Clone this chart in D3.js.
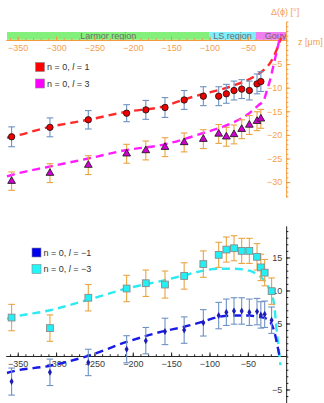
<!DOCTYPE html>
<html>
<head>
<meta charset="utf-8">
<script src="https://cdn.jsdelivr.net/npm/d3@7"></script>
<style>
  body { margin: 0; background: #fff; }
  svg { display: block; font-family: "Liberation Sans", Arial, sans-serif; }
</style>
</head>
<body>
<div id="chart"></div>
<script>
// measured positions (µm)
var zTop = [-358, -308, -258, -208, -183, -158, -133, -108, -88, -78, -68, -58, -48, -38, -33];
var zBot = [-358, -308, -258, -208, -183, -158, -133, -108, -88, -78, -68, -58, -48, -38, -33, -28, -19];

// top panel: l = 1 and l = 3
var l1Vals = [-20.4, -18.4, -16.8, -15.4, -14.7, -14.2, -12.6, -11.8, -11.8, -11.3, -10.6, -10.3, -10.6, -9.2, -8.7];
var l1Err  = [2.1, 2.0, 1.95, 1.8, 2.0, 2.1, 2.0, 2.0, 2.0, 2.0, 2.0, 2.0, 2.0, 2.1, 2.1];
var l3Vals = [-29.8, -28.1, -26.4, -24.0, -23.3, -22.6, -21.6, -20.9, -19.8, -20.4, -19.9, -18.8, -17.9, -17.1, -16.6];
var l3Err  = [1.95, 2.0, 2.0, 2.0, 2.0, 2.0, 2.0, 2.0, 2.0, 2.0, 2.0, 2.0, 2.0, 2.0, 2.0];

// bottom panel: l = -1 and l = -3
var lm1Vals = [-3.8, -2.4, -0.9, 1.1, 2.4, 3.8, 4.0, 5.1, 6.2, 6.7, 6.9, 6.9, 6.7, 6.8, 6.3, 6.4, 5.5];
var lm1Err  = [2.05, 2.0, 2.0, 2.05, 2.0, 2.0, 2.0, 2.0, 2.0, 2.0, 2.0, 2.0, 2.0, 2.0, 2.0, 2.0, 2.0];
var lm3Vals = [5.9, 4.3, 8.9, 10.3, 11.1, 10.9, 12.2, 14.0, 15.4, 16.2, 16.4, 16.0, 16.0, 15.1, 13.5, 12.7, 9.9];
var lm3Err  = [2.0, 2.0, 2.0, 2.0, 2.0, 2.05, 2.0, 2.0, 1.9, 1.9, 1.9, 1.9, 1.9, 2.0, 2.0, 2.0, 2.0];

// theory curves
var fitL1Z = [-364, -358, -308, -258, -208, -161, -133, -108, -88, -68, -48, -36, -27, -21, -16, -12, -8.5, -6.5];
var fitL1V = [-20.6, -20.4, -18.3, -16.8, -15.1, -14.0, -12.5, -11.3, -10.5, -9.5, -8.2, -7.1, -5.9, -4.8, -3.3, -1.8, -0.3, 0.5];
var fitL3Z = [-364, -358, -308, -258, -208, -161, -133, -108, -88, -68, -48, -36, -29, -25, -21, -17, -14, -11, -8.5, -6];
var fitL3V = [-28.8, -28.5, -26.7, -25.0, -23.2, -22.1, -20.9, -19.6, -18.6, -17.3, -15.4, -13.7, -12.6, -10.5, -8.4, -5.6, -3.5, -1.4, 0.3, 1.4];
var fitLm1Z = [-364, -358, -308, -258, -208, -161, -133, -108, -88, -68, -48, -36, -27, -21, -16, -12, -8.7];
var fitLm1V = [-2.5, -2.3, -1.4, 0.1, 2.2, 3.8, 4.5, 5.3, 6.0, 6.2, 6.2, 6.0, 5.8, 5.3, 4.0, 2.0, 0];
var fitLm3Z = [-364, -358, -308, -258, -208, -161, -133, -108, -88, -68, -48, -36, -29, -23, -16, -12, -9.5, -7.5];
var fitLm3V = [5.7, 5.9, 7.0, 8.6, 10.3, 11.5, 12.3, 13.0, 13.3, 13.3, 13.0, 12.3, 11.6, 10.5, 8.1, 3.5, 1.0, -1.3];

// regions along z
var regionNames = ["Larmor region", "LS region", "Gouy"];
var regionStart = [-364, -100, -40];
var regionEnd   = [-100, -40, 0];
var regionColors = ["#84f07c", "#80eefc", "#f080f0"];

var xTicks = [-350, -300, -250, -200, -150, -100, -50];

var width = 324, height = 403;
var orange = "#f39a38", orangeText = "#f5a04e";
var blueBar = "#6e92c3", orangeBar = "#eaa442";

var svg = d3.select("#chart").append("svg")
  .attr("width", width)
  .attr("height", height);

var x = d3.scaleLinear().domain([-364, 5]).range([7, 290]);
var yTop = d3.scaleLinear().domain([-33.2, 4]).range([197.2, 21.6]);
var yBot = d3.scaleLinear().domain([-7, 19.8]).range([402.7, 225.8]);

var minorX = d3.range(-360, 1, 10);

// ---------- top panel ----------
var topG = svg.append("g");

topG.selectAll(".band")
  .data(regionNames)
  .enter().append("rect")
  .attr("x", (d, i) => x(regionStart[i]))
  .attr("width", (d, i) => x(regionEnd[i]) - x(regionStart[i]))
  .attr("y", yTop(1.8))
  .attr("height", yTop(0.15) - yTop(1.8))
  .style("fill", (d, i) => regionColors[i]);

topG.selectAll(".bandLabel")
  .data(regionNames)
  .enter().append("text")
  .attr("x", (d, i) => i == 2 ? x(-28) : (x(regionStart[i]) + x(regionEnd[i])) / 2)
  .attr("y", yTop(0.9))
  .attr("dy", "0.35em")
  .attr("text-anchor", (d, i) => i == 2 ? "start" : "middle")
  .style("font-size", "9px")
  .style("fill", "#6a6a6a")
  .text(d => d);

function styleAxis(g, col, textCol) {
  g.select(".domain").attr("stroke", col).attr("stroke-width", 1);
  g.selectAll(".tick line").attr("stroke", col);
  g.selectAll(".tick text").attr("fill", textCol).style("font-size", "9px").style("font-family", "Liberation Sans, Arial, sans-serif");
}

// x axis, top
var gx1 = topG.append("g")
  .attr("transform", "translate(0," + yTop(0) + ")")
  .call(d3.axisBottom(x).tickValues(xTicks).tickSize(-4).tickPadding(4).tickSizeOuter(0));
styleAxis(gx1, orange, orangeText);
gx1.select(".domain").attr("d", "M" + x(-365) + ",0H" + x(1));
var gx1m = topG.append("g")
  .attr("transform", "translate(0," + yTop(0) + ")")
  .call(d3.axisBottom(x).tickValues(minorX).tickSize(-2.2).tickFormat(""));
gx1m.select(".domain").remove();
gx1m.selectAll(".tick line").attr("stroke", orange);

// y axis, top
var gy1 = topG.append("g")
  .attr("transform", "translate(" + x(0) + ",0)")
  .call(d3.axisLeft(yTop).tickValues([-30, -25, -20, -15, -10, -5]).tickSize(-4).tickPadding(4).tickSizeOuter(0));
styleAxis(gy1, orange, orangeText);
var gy1m = topG.append("g")
  .attr("transform", "translate(" + x(0) + ",0)")
  .call(d3.axisLeft(yTop).tickValues(d3.range(-33, 5, 1)).tickSize(-2.2).tickFormat(""));
gy1m.select(".domain").remove();
gy1m.selectAll(".tick line").attr("stroke", orange);

topG.append("text")
  .attr("x", 271).attr("y", 15)
  .style("font-size", "9px").style("fill", orangeText)
  .text("Δ(ϕ) [°]");
topG.append("text")
  .attr("x", 298).attr("y", 44.5)
  .style("font-size", "9px").style("fill", orangeText)
  .text("z [μm]");

var dash = "8,5";
function fitLine(g, zs, vs, y, col) {
  var line = d3.line()
    .x((d, i) => x(zs[i]))
    .y(d => y(d))
    .curve(d3.curveMonotoneX);
  g.append("path")
    .datum(vs)
    .attr("d", line)
    .style("fill", "none")
    .style("stroke", col)
    .style("stroke-width", 2.4)
    .style("stroke-dasharray", dash);
}

function errorBars(g, zs, vs, es, y, col) {
  var eb = g.selectAll(null)
    .data(vs)
    .enter().append("g")
    .style("stroke", col)
    .style("stroke-width", 1.1);
  eb.append("line")
    .attr("x1", (d, i) => x(zs[i])).attr("x2", (d, i) => x(zs[i]))
    .attr("y1", (d, i) => y(d - es[i])).attr("y2", (d, i) => y(d + es[i]));
  eb.append("line")
    .attr("x1", (d, i) => x(zs[i]) - 3.3).attr("x2", (d, i) => x(zs[i]) + 3.3)
    .attr("y1", (d, i) => y(d - es[i])).attr("y2", (d, i) => y(d - es[i]));
  eb.append("line")
    .attr("x1", (d, i) => x(zs[i]) - 3.3).attr("x2", (d, i) => x(zs[i]) + 3.3)
    .attr("y1", (d, i) => y(d + es[i])).attr("y2", (d, i) => y(d + es[i]));
}

fitLine(topG, fitL1Z, fitL1V, yTop, "#ff2a2a");
fitLine(topG, fitL3Z, fitL3V, yTop, "#ff1cff");

errorBars(topG, zTop, l3Vals, l3Err, yTop, orangeBar);
errorBars(topG, zTop, l1Vals, l1Err, yTop, blueBar);

topG.selectAll(".tri")
  .data(l3Vals)
  .enter().append("path")
  .attr("d", d3.symbol().type(d3.symbolTriangle).size(26))
  .attr("transform", (d, i) => "translate(" + x(zTop[i]) + "," + yTop(d) + ")")
  .style("fill", "#d000d0")
  .style("stroke", "#111")
  .style("stroke-width", 0.8);

topG.selectAll(".dot")
  .data(l1Vals)
  .enter().append("circle")
  .attr("cx", (d, i) => x(zTop[i]))
  .attr("cy", d => yTop(d))
  .attr("r", 3.2)
  .style("fill", "#ee0000")
  .style("stroke", "#111")
  .style("stroke-width", 0.8);

// ---------- bottom panel ----------
var botG = svg.append("g");

var gx2 = botG.append("g")
  .attr("transform", "translate(0," + yBot(0) + ")")
  .call(d3.axisBottom(x).tickValues(xTicks).tickSize(-4).tickPadding(4).tickSizeOuter(0));
styleAxis(gx2, "#222", "#3a3a3a");
gx2.select(".domain").attr("d", "M" + x(-365) + ",0H" + x(1));
var gx2m = botG.append("g")
  .attr("transform", "translate(0," + yBot(0) + ")")
  .call(d3.axisBottom(x).tickValues(minorX).tickSize(-2.2).tickFormat(""));
gx2m.select(".domain").remove();
gx2m.selectAll(".tick line").attr("stroke", "#222");

var gy2 = botG.append("g")
  .attr("transform", "translate(" + x(0) + ",0)")
  .call(d3.axisLeft(yBot).tickValues([-5, 5, 10, 15]).tickSize(-4).tickPadding(4).tickSizeOuter(0));
styleAxis(gy2, "#222", "#3a3a3a");
var gy2m = botG.append("g")
  .attr("transform", "translate(" + x(0) + ",0)")
  .call(d3.axisLeft(yBot).tickValues(d3.range(-6, 20, 1)).tickSize(-2.2).tickFormat(""));
gy2m.select(".domain").remove();
gy2m.selectAll(".tick line").attr("stroke", "#222");

fitLine(botG, fitLm3Z, fitLm3V, yBot, "#2eeaf2");
fitLine(botG, fitLm1Z, fitLm1V, yBot, "#1a1ae6");

errorBars(botG, zBot, lm3Vals, lm3Err, yBot, orangeBar);
errorBars(botG, zBot, lm1Vals, lm1Err, yBot, blueBar);

botG.selectAll(".sq")
  .data(lm3Vals)
  .enter().append("rect")
  .attr("x", (d, i) => x(zBot[i]) - 3.4)
  .attr("y", d => yBot(d) - 3.4)
  .attr("width", 6.8).attr("height", 6.8)
  .style("fill", "#22f0f4")
  .style("stroke", "#8a8a8a")
  .style("stroke-width", 0.9);

botG.selectAll(".bdot")
  .data(lm1Vals)
  .enter().append("path")
  .attr("d", d3.symbol().type(d3.symbolDiamond).size(14))
  .attr("transform", (d, i) => "translate(" + x(zBot[i]) + "," + yBot(d) + ")")
  .style("fill", "#1c1cb8");

// ---------- legends ----------
function legend(g, lx, ly, items) {
  items.forEach((it, i) => {
    var row = g.append("g").attr("transform", "translate(" + lx + "," + (ly + i * 16.5) + ")");
    row.append("rect")
      .attr("x", 0).attr("y", -4.5)
      .attr("width", 9).attr("height", 9)
      .style("fill", it.fill)
      .style("stroke", "#888")
      .style("stroke-width", 0.6);
    var t = row.append("text")
      .attr("x", 11.5).attr("y", 0).attr("dy", "0.35em")
      .style("font-size", "9px").style("fill", "#333");
    t.append("tspan").text("n = 0, ");
    t.append("tspan").style("font-style", "italic").text("l");
    t.append("tspan").text(" = " + it.l);
  });
}

legend(topG, 35.5, 67, [{ fill: "#ff0000", l: "1" }, { fill: "#ff00ff", l: "3" }]);
legend(botG, 32, 252.5, [{ fill: "#0000ee", l: "−1" }, { fill: "#22f6f8", l: "−3" }]);
</script>
</body>
</html>
